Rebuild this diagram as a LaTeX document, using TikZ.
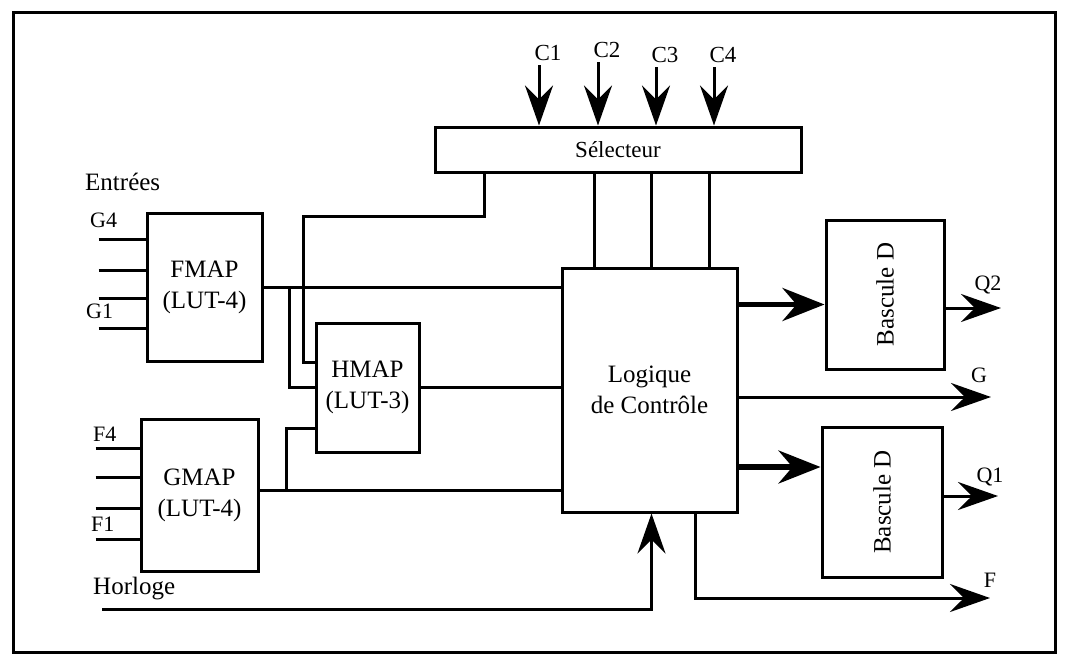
\documentclass[tikz,border=0pt]{standalone}
\usepackage{fontspec}
\setmainfont{Liberation Serif}
\usetikzlibrary{positioning, arrows.meta, calc}
\tikzset{
  blk/.style={draw, line width=3pt, inner sep=0pt, align=center,
    font=\fontsize{25}{31}\selectfont},
  lbl/.style={inner sep=0pt, font=\fontsize{25}{30}\selectfont},
  lbls/.style={lbl, font=\fontsize{22}{26}\selectfont},
  wire/.style={line width=3pt},
  flow/.style={wire, -{Stealth[length=40pt, width=28pt, inset=14pt]}},
  flowb/.style={line width=5.5pt, -{Stealth[length=42pt, width=33pt, inset=14pt]}},
}

\begin{document}
\begin{tikzpicture}[x=1pt, y=-1pt]
  \useasboundingbox (0,0) rectangle (1076,659);
  \draw[wire] (13,12) rectangle (1055,652);
  % blocks
  \node[blk, minimum width=366pt, minimum height=45pt, font=\fontsize{23}{26}\selectfont] (sel) at (618,149.5) {Sélecteur};
  \node[blk, minimum width=115pt, minimum height=148pt] (fmap) at (204.5,287) {FMAP\\(LUT-4)};
  \node[blk, minimum width=103pt, minimum height=129pt] (hmap) at (367.5,387.5) {HMAP\\(LUT-3)};
  \node[blk, minimum width=117pt, minimum height=152pt] (gmap) at (199.5,495) {GMAP\\(LUT-4)};
  \node[blk, minimum width=175pt, minimum height=244pt] (logic) at (649.5,390) {Logique\\de Contrôle};
  \node[blk, minimum width=118pt, minimum height=149pt] (bq2) at (885,294.5) {};
  \node[blk, minimum width=120pt, minimum height=150pt] (bq1) at (882,502) {};
  \node[lbl, rotate=90] (bq2t) at (bq2.center) {Bascule D};
  \node[lbl, rotate=90] (bq1t) at (bq1.center) {Bascule D};
  % control inputs
  \foreach \n/\x/\y in {1/548/60, 2/607/57, 3/665/62, 4/723/62} {
    \node[lbls, anchor=base, font=\fontsize{23}{26}\selectfont] (c\n) at (\x,\y) {C\n};
    \draw[flow] ([xshift=-9pt, yshift=-5pt]c\n.south) -- ([xshift=-9pt]c\n.south |- sel.north);
  }
  % left inputs
  \node[lbl, anchor=base west] (ent) at (85,190) {Entrées};
  \node[lbls, anchor=base west] (g4) at (90,227) {G4};
  \node[lbls, anchor=base west] (g1) at (86,318) {G1};
  \node[lbls, anchor=base west] (f4) at (93,441) {F4};
  \node[lbls, anchor=base west] (f1) at (91,531) {F1};
  \node[lbl, anchor=base west] (clkl) at (93,594) {Horloge};
  \foreach \dy in {28,59,87,117}
    \draw[wire] ($(fmap.north west)+(-47,\dy)$) -- ++(47,0);
  \foreach \dy in {31,60,91,122}
    \draw[wire] ($(gmap.north west)+(-44,\dy)$) -- ++(44,0);
  % wiring to the control logic
  \draw[wire] ($(sel.south west)+(51,0)$) -- ++(0,43) -| ($(hmap.west)+(-11,-25.5)$) -- ($(hmap.west)+(0,-25.5)$);
  \foreach \dx in {34,91,149}
    \draw[wire] ($(logic.north west)+(\dx,0)$) -- ($(sel.south west)+(\dx+127,0)$);
  \draw[wire] (fmap.east) -- (fmap.east -| logic.west);
  \draw[wire] ($(fmap.east)+(26,0)$) |- (hmap.west);
  \draw[wire] (hmap.east) -- (hmap.east -| logic.west);
  \coordinate (gout) at ($(gmap.east)+(0,-5)$);
  \draw[wire] (gout) -- (gout -| logic.west);
  \draw[wire] ($(gout)+(27,0)$) |- ($(hmap.west)+(0,40.5)$);
  \coordinate (clk) at (102,609);
  \draw[flow] (clk) -| ($(logic.south west)+(91,0)$);
  % outputs
  \coordinate (d2) at ([yshift=-10pt]bq2.west);
  \draw[flowb] (d2 -| logic.east) -- (d2);
  \coordinate (d1) at ([yshift=35pt]bq1.west);
  \draw[flowb] (d1 -| logic.east) -- (d1);
  \coordinate (q2) at (1001,308);
  \draw[flow] (q2 -| bq2.east) -- (q2);
  \coordinate (q1) at (998,496);
  \draw[flow] (q1 -| bq1.east) -- (q1);
  \coordinate (g) at (991,397);
  \draw[flow] (g -| logic.east) -- (g);
  \coordinate (f) at (990,598);
  \draw[flow] ($(logic.south west)+(135,0)$) |- (f);
  \node[lbls, anchor=base] (q2l) at (988,290) {Q2};
  \node[lbls, anchor=base] (q1l) at (990,482) {Q1};
  \node[lbls, anchor=base] (gl) at (979,382) {G};
  \node[lbls, anchor=base] (fl) at (990,587) {F};
\end{tikzpicture}
\end{document}
